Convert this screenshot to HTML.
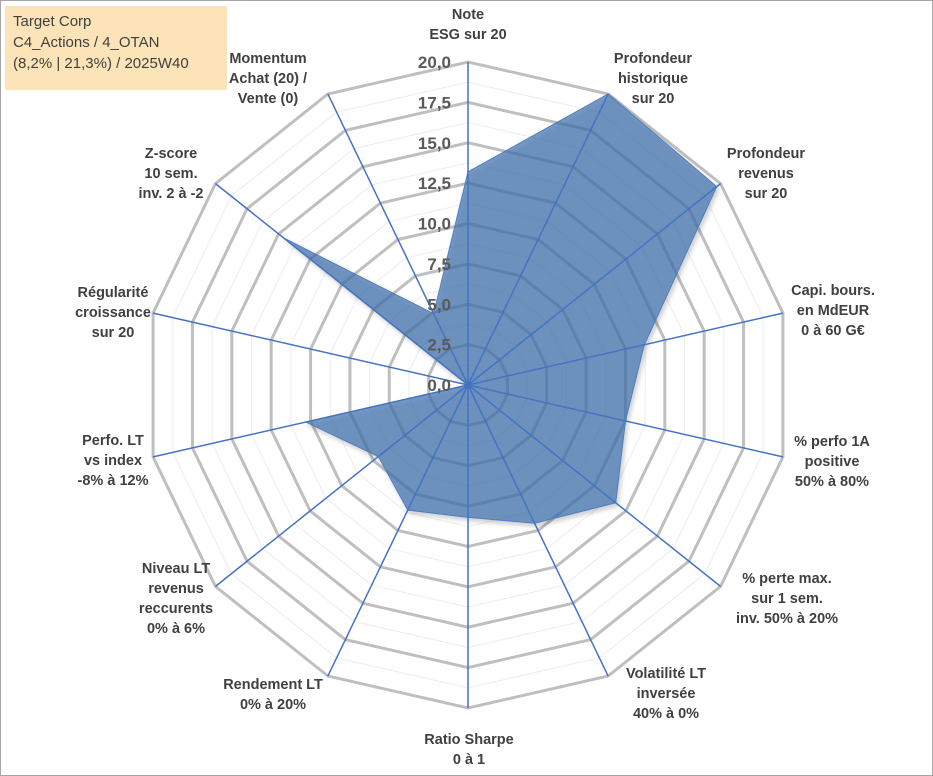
<!DOCTYPE html>
<html><head><meta charset="utf-8"><style>
body{margin:0;background:#fff;}
#wrap{position:relative;width:933px;height:776px;overflow:hidden;font-family:"Liberation Sans",sans-serif;}
#frame{position:absolute;left:0;top:0;width:931px;height:774px;border:1px solid #a6a6a6;}
#title{position:absolute;left:5px;top:6px;width:222px;height:84px;background:#fce4b8;color:#404040;font-size:15px;line-height:21px;padding:5px 0 0 8px;box-sizing:border-box;}
</style></head><body>
<div id="wrap">
<div id="frame"></div>
<svg id="chart" width="933" height="776" style="position:absolute;left:0;top:0"></svg>
<div id="title">Target Corp<br>C4_Actions / 4_OTAN<br>(8,2% | 21,3%) / 2025W40</div>
</div>
<script>
const categories=[["Note","ESG sur 20"],["Profondeur","historique","sur 20"],["Profondeur","revenus","sur 20"],["Capi. bours.","en MdEUR","0 à 60 G€"],["% perfo 1A","positive","50% à 80%"],["% perte max.","sur 1 sem.","inv. 50% à 20%"],["Volatilité LT","inversée","40% à 0%"],["Ratio Sharpe","0 à 1"],["Rendement LT","0% à 20%"],["Niveau LT","revenus","reccurents","0% à 6%"],["Perfo. LT","vs index","-8% à 12%"],["Régularité","croissance","sur 20"],["Z-score","10 sem.","inv. 2 à -2"],["Momentum","Achat (20) /","Vente (0)"]];
const values=[13.2,20,19.7,11.2,10.0,11.7,9.5,8.2,8.6,7.1,10.3,0,14.6,4.9];
const tickLabels=["0,0","2,5","5,0","7,5","10,0","12,5","15,0","17,5","20,0"];
const maxVal=20;
const labelPos=[[468,14],[653,58],[766,153],[833,290],[832,441],[787,578],[666,673],[469,739],[273,684],[176,568],[113,440],[113,292],[171,153],[268,58]];
const svg=document.getElementById('chart');
const NS='http://www.w3.org/2000/svg';
const cx=468,cy=385,R=323,N=categories.length;
function ang(i){return i*2*Math.PI/N;}
function pt(i,v){const r=v/maxVal*R;return [cx+r*Math.sin(ang(i)),cy-r*Math.cos(ang(i))];}
function mk(t,a){const e=document.createElementNS(NS,t);for(const k in a)e.setAttribute(k,a[k]);svg.appendChild(e);return e;}
const defs=mk('defs',{});
defs.innerHTML='<filter id="sh" x="-10%" y="-10%" width="120%" height="120%"><feDropShadow dx="2" dy="3" stdDeviation="2" flood-color="#000" flood-opacity="0.25"/></filter>';
for(let k=1;k<=16;k++){
  if(k%2===0)continue;
  const v=k*1.25;const pts=[];for(let i=0;i<N;i++)pts.push(pt(i,v).join(','));
  const e=mk('polygon',{points:pts.join(' '),fill:'none',stroke:'#ececec','stroke-width':1});
  
  
}
for(let k=1;k<tickLabels.length;k++){
  const v=k*2.5;const pts=[];for(let i=0;i<N;i++)pts.push(pt(i,v).join(','));
  const e=mk('polygon',{points:pts.join(' '),fill:'none',stroke:'#bfbfbf','stroke-width':3});
  
  
}
const dp=values.map((v,i)=>pt(i,v).join(',')).join(' ');
const poly=mk('polygon',{points:dp,fill:'#3f6fad','fill-opacity':0.7,stroke:'#4f7fc0','stroke-width':1,filter:'url(#sh)'});


for(let i=0;i<N;i++){
  const p=pt(i,maxVal);
  const l=mk('line',{x1:cx,y1:cy,x2:p[0],y2:p[1],stroke:'#4472c4','stroke-width':1.5});
  
  
}
mk('circle',{cx:cx,cy:cy,r:3,fill:'#4472c4'});
tickLabels.forEach((t,k)=>{
  const y=cy-k*2.5/maxVal*R;
  const e=mk('text',{x:451,y:y+6,'text-anchor':'end','font-size':17,'font-weight':'bold',fill:'#595959','font-family':'Liberation Sans, sans-serif'});
  e.textContent=t;
  
  
});
categories.forEach((lines,i)=>{
  const [x,y]=labelPos[i];
  const e=mk('text',{x:x,y:y+5,'text-anchor':'middle','font-size':14.5,'font-weight':'bold',fill:'#404040','font-family':'Liberation Sans, sans-serif'});
  lines.forEach((s,j)=>{const ts=document.createElementNS(NS,'tspan');ts.setAttribute('x',x);ts.setAttribute('dy',j?20:0);ts.textContent=s;e.appendChild(ts);});
  
  
});
</script>
</body></html>
